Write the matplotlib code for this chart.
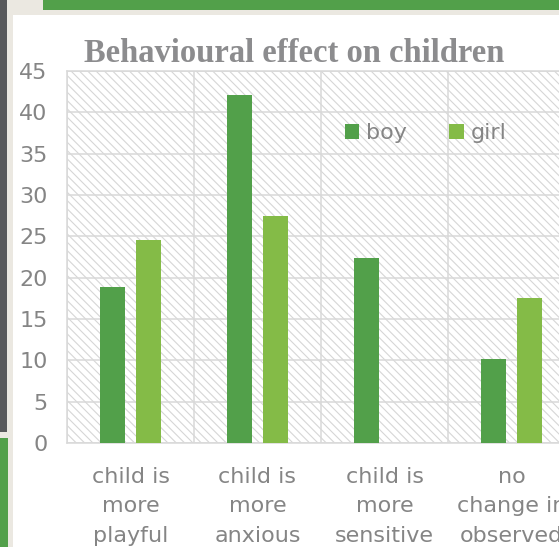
import matplotlib
matplotlib.use('Agg')
import matplotlib.pyplot as plt
from matplotlib.patches import Rectangle
import numpy as np

# data
categories = ['child is\nmore\nplayful', 'child is\nmore\nanxious',
              'child is\nmore\nsensitive', 'no\nchange in\nobserved']
boy = [18.9, 42.1, 22.4, 10.2]
girl = [24.5, 27.5, 0, 17.5]
y_ticks = list(range(0, 50, 5))

W, H = 559, 547
boy_color = '#52a04a'
girl_color = '#84bb47'
text_color = '#858585'
grid_color = '#d9d9d9'

plt.rcParams['font.family'] = ['DejaVu Sans']
plt.rcParams['hatch.linewidth'] = 0.8

fig = plt.figure(figsize=(W / 100, H / 100), dpi=100)
fig.patch.set_facecolor('white')


def px_rect(x0, y0, x1, y1, color, z=0):
    # rectangle given in pixel coords from top-left of the picture
    fig.add_artist(Rectangle((x0 / W, 1 - y1 / H), (x1 - x0) / W, (y1 - y0) / H,
                             transform=fig.transFigure, facecolor=color,
                             edgecolor='none', zorder=z))


# window frame around the chart
px_rect(0, 0, W, 15, '#ebe8e1')
px_rect(0, 0, 13, H, '#ebe8e1')
px_rect(0, 0, 7, 432, '#58595b', 1)
px_rect(0, 438, 8, H, '#52a04a', 1)
px_rect(43, 0, W, 10, '#52a04a', 1)

ax = fig.add_axes([67 / W, 1 - 443 / H, (575 - 67) / W, (443 - 71) / H])
ax.set_facecolor('white')
ax.add_patch(Rectangle((0, 0), 1, 1, transform=ax.transAxes, fill=False,
                       hatch='\\\\\\\\', edgecolor='#d6d6d6', linewidth=0, zorder=0))

x = np.arange(len(categories))
width = 0.2
ax.bar(x - 0.14, boy, width, color=boy_color, label='boy', zorder=3)
ax.bar(x + 0.14, girl, width, color=girl_color, label='girl', zorder=3)

ax.set_xlim(-0.5, len(categories) - 0.5)
ax.set_ylim(0, 45)
ax.set_yticks(y_ticks)
ax.set_xticks(x)
ax.set_xticklabels(categories, linespacing=1.6)
ax.set_xticks(np.arange(-0.5, len(categories), 1.0), minor=True)
ax.tick_params(axis='y', length=0, pad=14, labelsize=16, labelcolor=text_color)
ax.tick_params(axis='x', which='major', length=0, pad=17, labelsize=16, labelcolor=text_color)
ax.tick_params(axis='x', which='minor', length=0)
ax.grid(axis='y', color=grid_color, linewidth=1.1, zorder=1)
ax.grid(axis='x', which='minor', color=grid_color, linewidth=1.1, zorder=1)
ax.set_axisbelow(True)
for s in ax.spines.values():
    s.set_color(grid_color)
    s.set_linewidth(1.1)

leg = ax.legend(loc='center left', bbox_to_anchor=(345 / W, 1 - 133 / H),
                bbox_transform=fig.transFigure, ncol=2, frameon=False,
                fontsize=16, handlelength=0.65, handleheight=0.65,
                handletextpad=0.3, columnspacing=1.9, borderpad=0,
                borderaxespad=0)
for t in leg.get_texts():
    t.set_color(text_color)

fig.text(294.5 / W, 1 - 62 / H, 'Behavioural effect on children', ha='center',
         va='baseline', fontsize=23.5, fontweight='bold',
         family=['Liberation Serif'], color='#8c8c8e')

fig.savefig('out.png', dpi=100)
